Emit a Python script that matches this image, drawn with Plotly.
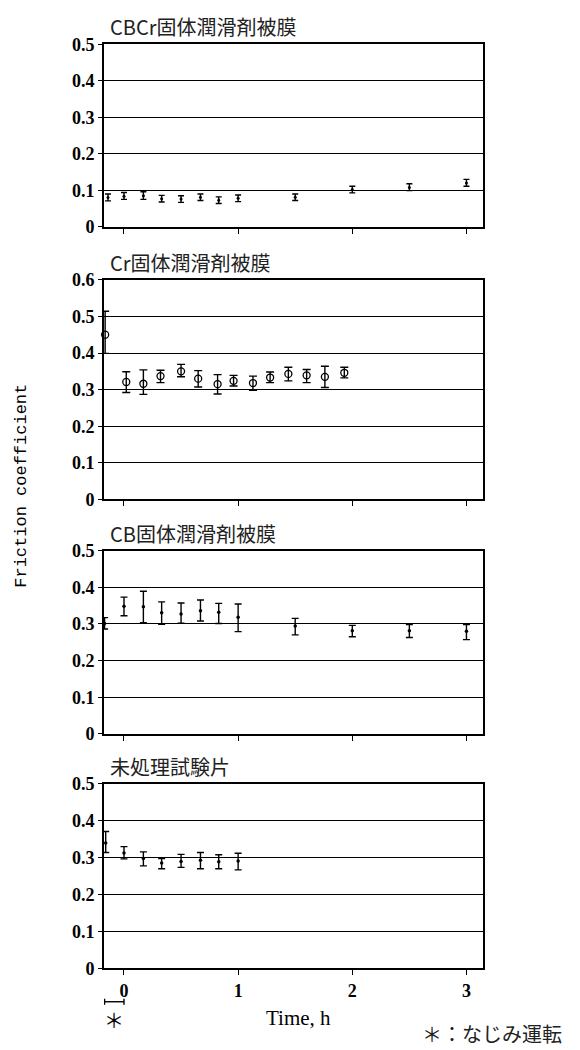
import plotly.graph_objects as go

# ---- data: friction coefficient vs. sliding time (h) ----
# running-in period is plotted at negative time
cbcr_t = [-0.14, 0.0, 0.17, 0.33, 0.5, 0.67, 0.83, 1.0, 1.5, 2.0, 2.5, 3.0]
cbcr_mu = [0.080, 0.084, 0.085, 0.077, 0.076, 0.081, 0.073, 0.078, 0.081, 0.102, 0.108, 0.120]
cbcr_up = [0.010, 0.010, 0.011, 0.009, 0.009, 0.009, 0.009, 0.009, 0.009, 0.009, 0.010, 0.010]
cbcr_dn = [0.009, 0.009, 0.010, 0.009, 0.009, 0.009, 0.009, 0.009, 0.009, 0.009, 0.009, 0.009]

cr_t = [-0.165, 0.02, 0.17, 0.32, 0.5, 0.65, 0.82, 0.96, 1.13, 1.28, 1.44, 1.6, 1.76, 1.93]
cr_mu = [0.450, 0.321, 0.316, 0.337, 0.350, 0.330, 0.315, 0.324, 0.318, 0.333, 0.343, 0.339, 0.335, 0.346]
cr_up = [0.064, 0.028, 0.038, 0.016, 0.019, 0.022, 0.026, 0.015, 0.019, 0.015, 0.018, 0.016, 0.029, 0.015]
cr_dn = [0.051, 0.029, 0.029, 0.018, 0.015, 0.023, 0.027, 0.014, 0.020, 0.014, 0.019, 0.020, 0.029, 0.014]

cb_t = [-0.17, 0.0, 0.17, 0.33, 0.5, 0.67, 0.83, 1.0, 1.5, 2.0, 2.5, 3.0]
cb_mu = [0.301, 0.348, 0.347, 0.330, 0.327, 0.336, 0.332, 0.318, 0.294, 0.281, 0.281, 0.280]
cb_up = [0.016, 0.025, 0.042, 0.030, 0.030, 0.029, 0.024, 0.036, 0.021, 0.015, 0.017, 0.018]
cb_dn = [0.015, 0.026, 0.044, 0.031, 0.025, 0.028, 0.031, 0.039, 0.024, 0.016, 0.018, 0.023]

raw_t = [-0.16, 0.0, 0.17, 0.33, 0.5, 0.67, 0.83, 1.0]
raw_mu = [0.340, 0.313, 0.298, 0.286, 0.290, 0.293, 0.289, 0.291]
raw_up = [0.031, 0.017, 0.018, 0.012, 0.019, 0.021, 0.019, 0.021]
raw_dn = [0.026, 0.016, 0.020, 0.016, 0.016, 0.023, 0.019, 0.024]

titles = ["CBCr固体潤滑剤被膜", "Cr固体潤滑剤被膜", "CB固体潤滑剤被膜", "未処理試験片"]
y_max = [0.5, 0.6, 0.5, 0.5]
x_ticks = [0, 1, 2, 3]
runin_start = -0.17

W, H = 580, 1050
x_px = (104, 483)
# (top, bottom) pixel rows of each panel
panels_px = [(35, 221), (275, 499), (551, 738), (789, 977)]
x_range = [-0.175, 3.145]

series = [
    (cbcr_t, cbcr_mu, cbcr_up, cbcr_dn,
     dict(symbol="circle", size=3, color="black"), 3),
    (cr_t, cr_mu, cr_up, cr_dn,
     dict(symbol="circle-open", size=7, color="black", line=dict(width=1.3, color="black")), 4),
    (cb_t, cb_mu, cb_up, cb_dn,
     dict(symbol="circle", size=3.5, color="black"), 3.5),
    (raw_t, raw_mu, raw_up, raw_dn,
     dict(symbol="circle", size=3.5, color="black"), 3.5),
]

serif = "Liberation Serif, Times New Roman, serif"
tick_font = dict(family=serif, size=18, color="black", weight="bold")
title_font = dict(family="Noto Sans CJK JP, sans-serif", size=20, color="#222")


def py(px):
    """pixel row -> paper fraction"""
    return 1 - px / H


fig = go.Figure()
layout = dict(
    width=W, height=H,
    margin=dict(l=0, r=0, t=0, b=0),
    paper_bgcolor="white", plot_bgcolor="white",
    showlegend=False,
    annotations=[], shapes=[],
)

for i, ((t, mu, up, dn, marker, cap), title, ym, (top, bot)) in enumerate(
        zip(series, titles, y_max, panels_px)):
    n = "" if i == 0 else str(i + 1)
    fig.add_trace(go.Scatter(
        x=t, y=mu, mode="markers", marker=marker,
        error_y=dict(type="data", symmetric=False, array=up, arrayminus=dn,
                     color="black", thickness=1.4, width=cap),
        xaxis="x" + n, yaxis="y" + n, cliponaxis=False,
    ))
    last = i == 3
    layout["xaxis" + n] = dict(
        domain=[x_px[0] / W, x_px[1] / W], anchor="y" + n,
        range=x_range, tickvals=x_ticks,
        showticklabels=last, ticks="outside", ticklen=5, tickwidth=1,
        tickcolor="black", showgrid=False, zeroline=False,
        showline=True, linecolor="black", linewidth=1.6, mirror=True,
        tickfont=tick_font,
    )
    layout["yaxis" + n] = dict(
        domain=[py(bot), py(top)], anchor="x" + n,
        range=[0, ym], dtick=0.1, tickformat=".1~f",
        ticks="outside", ticklen=4, tickwidth=1, tickcolor="black",
        showgrid=True, gridcolor="black", gridwidth=1.2,
        zeroline=False, showline=True, linecolor="black", linewidth=1.6,
        mirror=True, tickfont=tick_font,
    )
    layout["annotations"].append(dict(
        text=title, xref="paper", yref="paper",
        x=108 / W, y=py(top - 1), xanchor="left", yanchor="bottom",
        showarrow=False, font=title_font,
    ))

# axis titles
layout["annotations"].append(dict(
    text="Friction coefficient", xref="paper", yref="paper",
    x=22 / W, y=py(485), xanchor="center", yanchor="middle",
    textangle=-90, showarrow=False,
    font=dict(family="Liberation Mono, Courier New, monospace", size=17, color="black"),
))
layout["annotations"].append(dict(
    text="Time, h", xref="paper", yref="paper",
    x=298 / W, y=py(1028), xanchor="center", yanchor="middle", showarrow=False,
    font=dict(family=serif, size=21, color="black"),
))
# running-in marker below the time axis
layout["shapes"].append(dict(
    type="line", xref="x4", yref="paper", x0=runin_start, x1=0,
    y0=py(1011), y1=py(1011), line=dict(color="black", width=1.4),
))
for xv in (runin_start, 0):
    layout["shapes"].append(dict(
        type="line", xref="x4", yref="paper", x0=xv, x1=xv,
        y0=py(1008), y1=py(1014), line=dict(color="black", width=1.4),
    ))
layout["annotations"].append(dict(
    text="＊", xref="x4", yref="paper", x=runin_start / 2, y=py(1029),
    xanchor="center", yanchor="middle", showarrow=False,
    font=dict(family="Noto Sans CJK JP", size=20, color="black"),
))
layout["annotations"].append(dict(
    text="＊：なじみ運転", xref="paper", yref="paper",
    x=492 / W, y=py(1043), xanchor="center", yanchor="middle", showarrow=False,
    font=dict(family="Noto Sans CJK JP", size=20, color="#222"),
))

fig.update_layout(**layout)
fig.write_html("out.html")
